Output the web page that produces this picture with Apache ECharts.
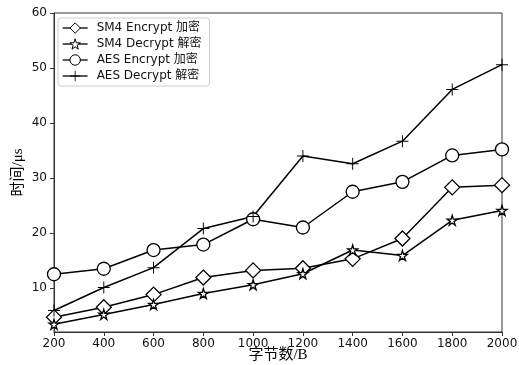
<!DOCTYPE html>
<html>
<head>
<meta charset="utf-8">
<script src="https://cdn.jsdelivr.net/npm/echarts@6/dist/echarts.min.js"></script>
<style>
  html, body { margin: 0; padding: 0; background: #fff; }
  #chart { width: 519px; height: 365px; }
</style>
</head>
<body>
<div id="chart"></div>
<script>
// Message sizes in bytes
const sizes = [200, 400, 600, 800, 1000, 1200, 1400, 1600, 1800, 2000];

// Timings in microseconds
const sm4Encrypt = [4.7, 6.5, 8.8, 11.9, 13.2, 13.6, 15.3, 19.0, 28.3, 28.7];
const sm4Decrypt = [3.4, 5.2, 7.0, 9.0, 10.6, 12.6, 16.9, 15.9, 22.3, 24.1];
const aesEncrypt = [12.5, 13.5, 16.9, 17.9, 22.5, 21.0, 27.5, 29.3, 34.1, 35.2];
const aesDecrypt = [5.9, 10.1, 13.7, 20.8, 23.0, 34.0, 32.6, 36.7, 46.1, 50.6];

const seriesNames = ['SM4 Encrypt 加密', 'SM4 Decrypt 解密', 'AES Encrypt 加密', 'AES Decrypt 解密'];
const yTicks = [10, 20, 30, 40, 50, 60];

const starPath = 'path://M50,0 L61,35 L98,35 L68,57 L79,91 L50,70 L21,91 L32,57 L2,35 L39,35 Z';
const plusPath = 'path://M46,0 L54,0 L54,46 L100,46 L100,54 L54,54 L54,100 L46,100 L46,54 L0,54 L0,46 L46,46 Z';

function pairs(vals) {
  return sizes.map((s, i) => [s, vals[i]]);
}

const hollow = { color: '#fff', borderColor: '#000', borderWidth: 1.3 };

function lineSeries(name, vals, symbol, size, itemStyle) {
  return {
    name: name,
    type: 'line',
    data: pairs(vals),
    symbol: symbol,
    symbolSize: size,
    showAllSymbol: true,
    lineStyle: { color: '#000', width: 1.5 },
    itemStyle: itemStyle,
    z: 3
  };
}

const chart = echarts.init(document.getElementById('chart'));
chart.setOption({
  animation: false,
  backgroundColor: '#fff',
  textStyle: { fontFamily: 'DejaVu Sans, Noto Sans CJK SC' },
  grid: {
    left: 54, right: 17, top: 13, bottom: 33,
    outerBoundsMode: 'none',
    show: true, borderColor: '#333', borderWidth: 1
  },
  legend: {
    orient: 'vertical',
    left: 58, top: 18,
    padding: [4, 8, 4, 4],
    itemGap: 4,
    itemWidth: 25,
    itemHeight: 13,
    backgroundColor: '#fff',
    borderColor: '#ccc',
    borderWidth: 1,
    borderRadius: 3,
    itemStyle: { borderWidth: 1 },
    lineStyle: { width: 1.3 },
    textStyle: { fontSize: 12, color: '#111', padding: [0, 0, 0, 4], fontFamily: 'DejaVu Sans, Noto Sans CJK SC' },
    data: seriesNames
  },
  xAxis: {
    type: 'value',
    min: 200, max: 2000, interval: 200,
    name: '字节数/B',
    nameLocation: 'middle',
    nameGap: 16,
    nameMoveOverlap: false,
    nameTextStyle: { fontSize: 15, color: '#000', fontFamily: 'Liberation Serif, Noto Sans CJK SC' },
    axisLine: { lineStyle: { color: '#333' } },
    axisTick: { inside: false, length: 4, lineStyle: { color: '#333' } },
    axisLabel: { fontSize: 12, color: '#111', margin: 6, formatter: v => String(v) },
    splitLine: { show: false }
  },
  yAxis: {
    type: 'value',
    min: 2, max: 60,
    name: '时间/μs',
    nameLocation: 'middle',
    nameGap: 28,
    nameMoveOverlap: false,
    nameTextStyle: { fontSize: 15, color: '#000', fontFamily: 'Liberation Serif, Noto Sans CJK SC' },
    axisLine: { show: true, lineStyle: { color: '#333' } },
    axisTick: { show: true, inside: false, length: 4, customValues: yTicks, lineStyle: { color: '#333' } },
    axisLabel: { fontSize: 12, color: '#111', margin: 7, customValues: yTicks },
    splitLine: { show: false }
  },
  series: [
    lineSeries(seriesNames[0], sm4Encrypt, 'diamond', 15, hollow),
    lineSeries(seriesNames[1], sm4Decrypt, starPath, 10, hollow),
    lineSeries(seriesNames[2], aesEncrypt, 'circle', 13, hollow),
    lineSeries(seriesNames[3], aesDecrypt, plusPath, 12, { color: '#000', borderWidth: 0 })
  ]
});
</script>
</body>
</html>
